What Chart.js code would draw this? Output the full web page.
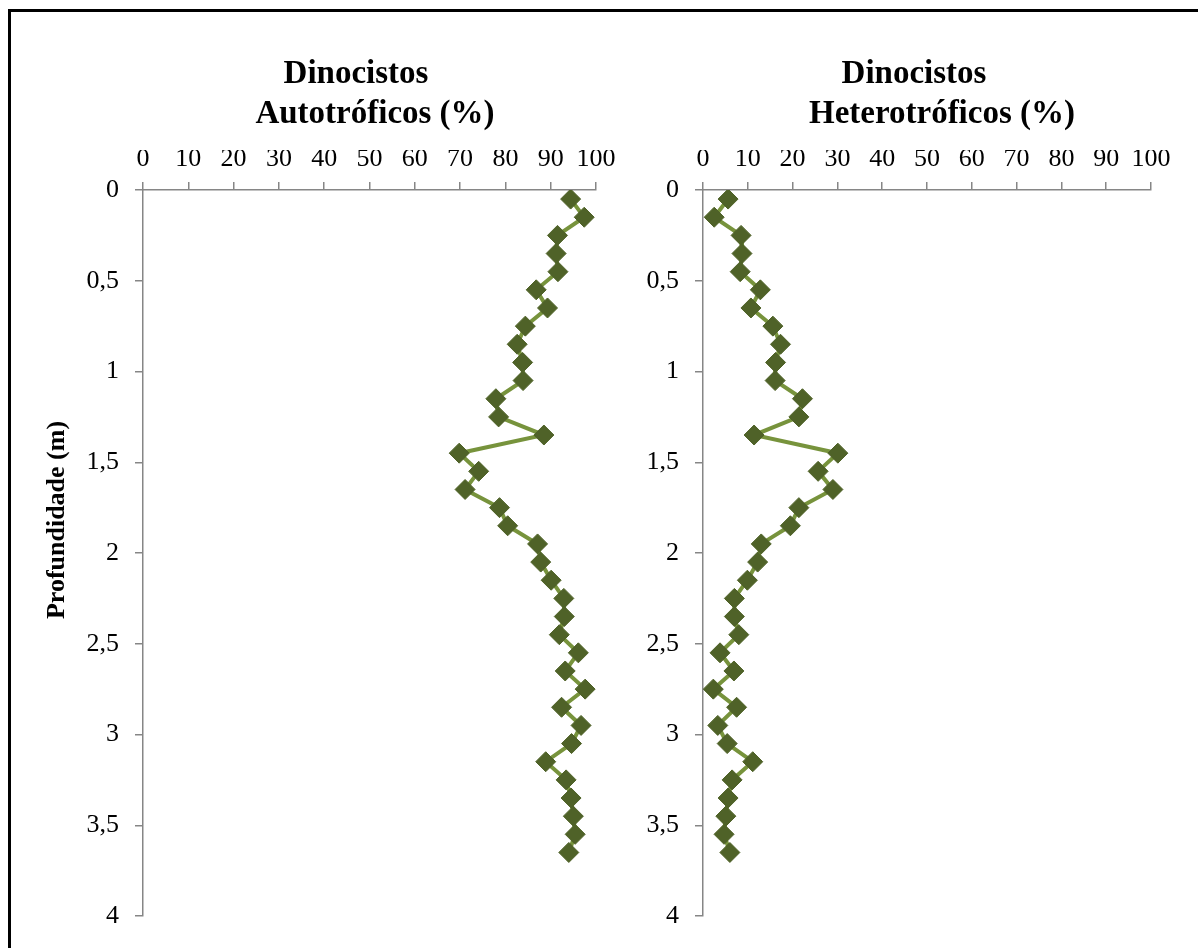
<!DOCTYPE html>
<html>
<head>
<meta charset="utf-8">
<title>Dinocistos</title>
<script src="https://cdn.jsdelivr.net/npm/chart.js@4.4.1/dist/chart.umd.min.js"></script>
<style>
  body { margin: 0; background: #fff; }
  .page { position: relative; width: 1198px; height: 948px; overflow: hidden; }
  .frame {
    position: absolute; left: 8px; top: 9px; width: 1300px; height: 1100px;
    border-left: 3px solid #000; border-top: 3px solid #000;
  }
  canvas { position: absolute; top: 0; }
  #autoChart { left: 0; }
  #heteroChart { left: 620px; }
</style>
</head>
<body>
<div class="page">
  <div class="frame"></div>
  <canvas id="autoChart" width="640" height="948"></canvas>
  <canvas id="heteroChart" width="578" height="948"></canvas>
</div>
<script>
'use strict'

// profundidade das amostras (m)
const depths = [0.05, 0.15, 0.25, 0.35, 0.45, 0.55, 0.65, 0.75, 0.85, 0.95,
  1.05, 1.15, 1.25, 1.35, 1.45, 1.55, 1.65, 1.75, 1.85, 1.95,
  2.05, 2.15, 2.25, 2.35, 2.45, 2.55, 2.65, 2.75, 2.85, 2.95,
  3.05, 3.15, 3.25, 3.35, 3.45, 3.55, 3.65]

// dinocistos autotróficos (%)
const autoValues = [94.4, 97.4, 91.5, 91.2, 91.6, 86.8, 89.3, 84.4, 82.6, 83.8,
  83.9, 77.9, 78.5, 88.5, 69.8, 74.1, 71.1, 78.7, 80.5, 87.1,
  87.8, 90.1, 92.9, 93.0, 91.9, 96.1, 93.2, 97.6, 92.4, 96.7,
  94.6, 88.9, 93.4, 94.5, 95.0, 95.4, 94.0]

// dinocistos heterotróficos (%)
const heteroValues = [5.6, 2.5, 8.5, 8.7, 8.3, 12.8, 10.7, 15.6, 17.3, 16.2,
  16.1, 22.2, 21.4, 11.4, 30.1, 25.7, 29.0, 21.4, 19.5, 13.0,
  12.2, 9.9, 7.0, 7.0, 8.0, 3.8, 6.9, 2.3, 7.5, 3.3,
  5.4, 11.1, 6.5, 5.6, 5.1, 4.7, 6.0]

const percentMin = 0
const percentMax = 100
const percentStep = 10
const depthMin = 0
const depthMax = 4
const depthStep = 0.5

const axisGrey = '#868686'
const lineGreen = '#77933C'
const markerGreen = '#4F6228'
const serif = '"Liberation Serif", "Times New Roman", serif'

// Títulos desenhados à mão para ficarem onde o Excel os pôs
const titlePlugin = {
  id: 'panelTitle',
  afterDraw: function(chart, args, opts) {
    const ctx = chart.ctx
    ctx.save()
    ctx.fillStyle = '#000'
    ctx.font = `bold 33px ${serif}`
    ctx.textAlign = 'center'
    ctx.textBaseline = 'alphabetic'
    opts.lines.forEach(line => {
      ctx.fillText(line.text, line.x, line.y)
    })
    if (opts.yLabel) {
      ctx.translate(opts.yLabel.x, opts.yLabel.y)
      ctx.rotate(-Math.PI / 2)
      ctx.font = `bold 26px ${serif}`
      ctx.textBaseline = 'middle'
      ctx.fillText(opts.yLabel.text, 0, 0)
    }
    ctx.restore()
  }
}

function makePanel(canvasId, values, padding, titleOpts) {
  const points = values.map((v, i) => ({ x: v, y: depths[i] }))

  return new Chart(document.getElementById(canvasId), {
    type: 'scatter',
    data: {
      datasets: [{
        data: points,
        showLine: true,
        borderColor: lineGreen,
        borderWidth: 4,
        pointStyle: 'rectRot',
        pointRadius: 10,
        pointBackgroundColor: markerGreen,
        pointBorderColor: markerGreen,
        pointBorderWidth: 1,
      }]
    },
    options: {
      responsive: false,
      animation: false,
      layout: { padding: padding },
      plugins: {
        legend: { display: false },
        tooltip: { enabled: false },
        panelTitle: titleOpts
      },
      scales: {
        x: {
          type: 'linear',
          position: 'top',
          min: percentMin,
          max: percentMax,
          ticks: {
            stepSize: percentStep,
            color: '#000',
            padding: 7,
            autoSkip: false,
            minRotation: 0,
            maxRotation: 0,  // the labels only just fit, keep them flat
            font: { family: serif, size: 26 }
          },
          grid: { drawOnChartArea: false, tickLength: 8, color: axisGrey, lineWidth: 1.5 },
          border: { color: axisGrey, width: 1.5 },
          afterFit: function(scale) { scale.height = 40 }
        },
        y: {
          type: 'linear',
          reverse: true,
          min: depthMin,
          max: depthMax,
          ticks: {
            stepSize: depthStep,
            color: '#000',
            padding: 16,
            font: { family: serif, size: 26 },
            callback: value => value.toString().replace('.', ',')
          },
          grid: { drawOnChartArea: false, tickLength: 8, color: axisGrey, lineWidth: 1.5 },
          border: { color: axisGrey, width: 1.5 },
          afterFit: function(scale) { scale.width = 60 }
        }
      }
    },
    plugins: [titlePlugin]
  })
}

makePanel('autoChart', autoValues,
  { left: 83, right: 44, top: 150, bottom: 32 },
  {
    lines: [
      { text: 'Dinocistos', x: 356, y: 83 },
      { text: 'Autotróficos (%)', x: 375, y: 123 }
    ],
    yLabel: { text: 'Profundidade (m)', x: 57, y: 520 }
  })

makePanel('heteroChart', heteroValues,
  { left: 23, right: 47, top: 150, bottom: 32 },
  {
    lines: [
      { text: 'Dinocistos', x: 294, y: 83 },
      { text: 'Heterotróficos (%)', x: 322, y: 123 }
    ]
  })
</script>
</body>
</html>
